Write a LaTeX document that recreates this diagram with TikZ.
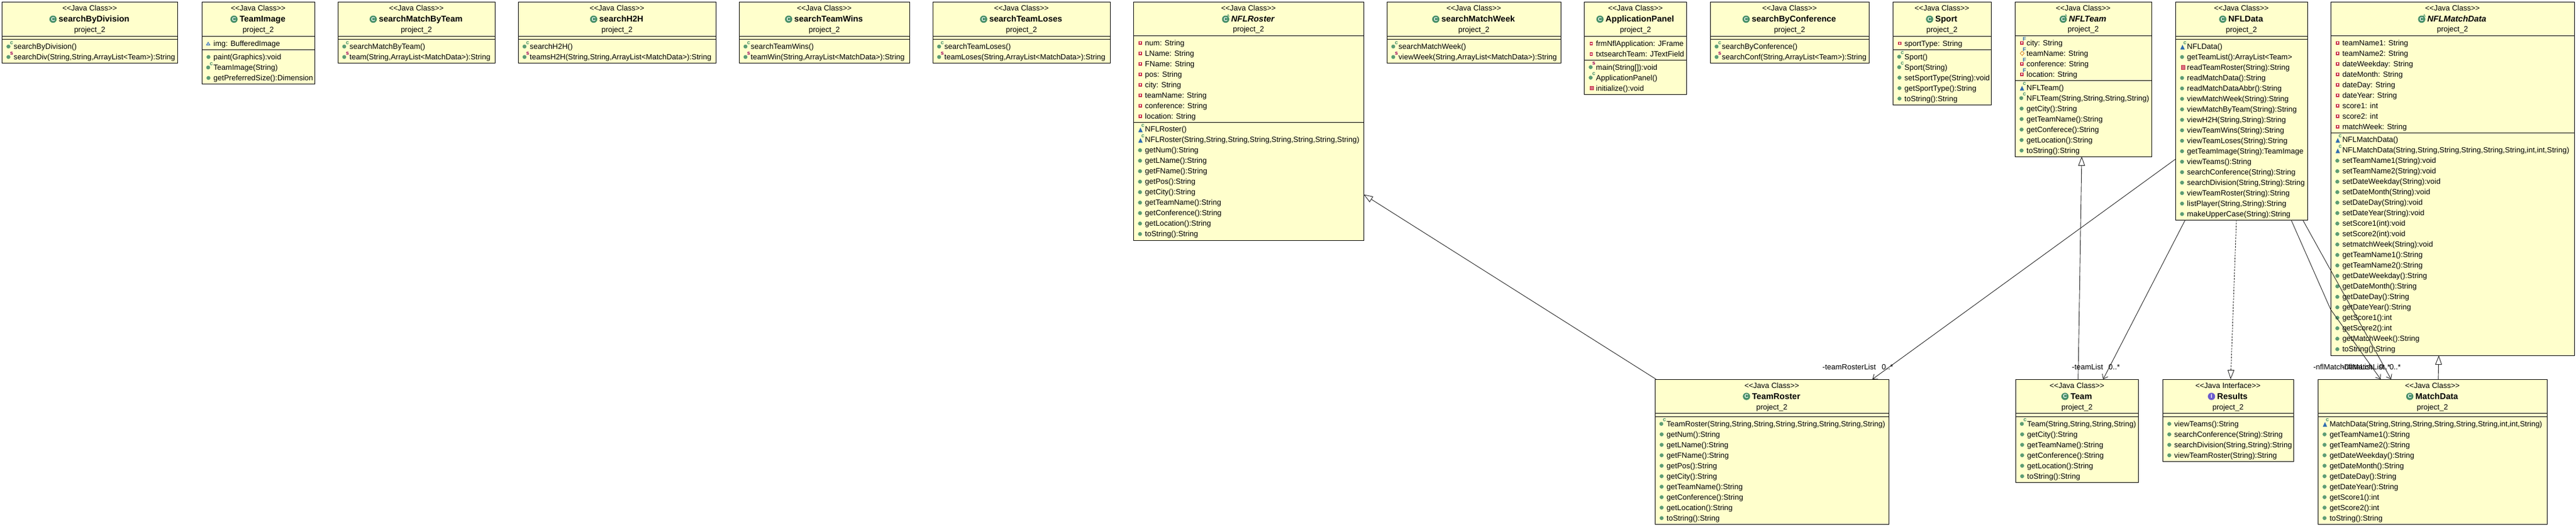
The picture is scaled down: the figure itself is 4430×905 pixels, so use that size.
\documentclass[tikz,border=0pt]{standalone}
\usepackage{fontspec}
\usetikzlibrary{arrows.meta}
\newfontfamily\umlfont{Liberation Sans}

\definecolor{boxfill}{HTML}{FFFFCC}
\definecolor{dotgreen}{HTML}{5C9C74}
\definecolor{titlegreen}{HTML}{468F68}
\definecolor{titlepurple}{HTML}{6A5ACD}
\definecolor{privred}{HTML}{C8324A}
\definecolor{pkgblue}{HTML}{2F6DB0}
\definecolor{staticred}{HTML}{A0005A}
\definecolor{linegray}{HTML}{222222}

\tikzset{
  classnode/.style={draw=black, fill=boxfill, line width=1pt, inner sep=0pt, outer sep=0pt},
  divline/.style={draw=black, line width=0.9pt},
  headtext/.style={inner sep=0pt, anchor=base, font=\umlfont\fontsize{13}{15}\selectfont},
  titletext/.style={inner sep=0pt, anchor=base, font=\umlfont\bfseries\fontsize{14.5}{16}\selectfont},
  abstitle/.style={titletext, font=\umlfont\bfseries\itshape\fontsize{14.5}{16}\selectfont},
  titleicon/.style={circle, inner sep=0pt, minimum size=12.5pt, text=white, font=\umlfont\bfseries\fontsize{9.5}{10}\selectfont},
  rowtext/.style={inner sep=0pt, anchor=base west, font=\umlfont\fontsize{13}{15}\selectfont},
  rowmark/.style={inner sep=0pt, font=\umlfont\bfseries\fontsize{9.5}{10}\selectfont},
  linktext/.style={inner sep=0pt, anchor=base west, font=\umlfont\fontsize{13}{15}\selectfont},
  genline/.style={draw=linegray, line width=0.9pt, -{Triangle[open, fill=white, length=16pt, width=11.5pt]}},
  assocline/.style={draw=linegray, line width=0.9pt, -{Straight Barb[length=7pt, width=11pt]}},
  implline/.style={genline, dash pattern=on 3pt off 2pt}
}

% the small marks in front of the rows
\newcommand{\rowsup}[3]{\node[rowmark, text=#1] (\rowid-m) at (16.5,#3-6.5) {#2};}
\newcommand{\iconpub}[1]{\fill[dotgreen] (11.5,#1) circle (3.4pt);}
\newcommand{\iconpubc}[1]{\fill[dotgreen] (11,#1) circle (3.4pt); \rowsup{titlegreen}{c}{#1}}
\newcommand{\iconpubs}[1]{\fill[dotgreen] (11,#1) circle (3.4pt); \rowsup{staticred}{s}{#1}}
\newcommand{\iconpkgc}[1]{\fill[pkgblue] (8.5,#1+5) -- (16,#1+5) -- (12.25,#1-3) -- cycle; \rowsup{titlegreen}{c}{#1}}
\newcommand{\iconpkg}[1]{\draw[pkgblue, fill=pkgblue!30, line width=0.8pt] (8,#1+2.5) -- (14,#1+2.5) -- (11,#1-2.5) -- cycle;}
\newcommand{\iconpri}[1]{\draw[privred, fill=white, line width=1.5pt] (10,#1-2.2) rectangle (14,#1+2.2);}
\newcommand{\iconprm}[1]{\draw[privred, fill=privred!70, line width=0.8pt] (10,#1-3.2) rectangle (16,#1+3.2);}
\newcommand{\iconprif}[1]{\draw[privred, fill=white, line width=1.3pt] (10,#1-2.2) rectangle (14,#1+2.2); \rowsup{pkgblue}{F}{#1}}
\newcommand{\iconprof}[1]{\draw[orange!80!black, line width=0.6pt] (9,#1) -- (12.5,#1-3.7) -- (16,#1) -- (12.5,#1+3.7) -- cycle; \rowsup{pkgblue}{F}{#1}}

% the three upper lines of a box, by kind
\newcommand{\headcls}[3]{
  \node[headtext] (#1-stereo) at (#2/2,15) {<{}<Java Class>{}>};
  \node[titletext] (#1-title) at (#2/2+7.5,34) {#3};
  \node[titleicon, fill=titlegreen] (#1-icon) at ([xshift=-9.5pt,yshift=4.5pt]#1-title.base west) {C};
  \node[headtext] (#1-pack) at (#2/2,52) {project\_2};
}
\newcommand{\headabs}[3]{
  \node[headtext] (#1-stereo) at (#2/2,15) {<{}<Java Class>{}>};
  \node[abstitle] (#1-title) at (#2/2+7.5,34) {#3};
  \node[titleicon, fill=titlegreen] (#1-icon) at ([xshift=-9.5pt,yshift=4.5pt]#1-title.base west) {C};
  \node[rowmark, text=titlegreen, font=\umlfont\bfseries\fontsize{6.5}{7}\selectfont] (#1-abs) at ([xshift=-5pt,yshift=10pt]#1-title.base west) {A};
  \node[headtext] (#1-pack) at (#2/2,51) {project\_2};
}
\newcommand{\headifc}[3]{
  \node[headtext] (#1-stereo) at (#2/2,15) {<{}<Java Interface>{}>};
  \node[titletext] (#1-title) at (#2/2+7.5,34) {#3};
  \node[titleicon, fill=titlepurple] (#1-icon) at ([xshift=-9.5pt,yshift=4.5pt]#1-title.base west) {I};
  \node[headtext] (#1-pack) at (#2/2,52) {project\_2};
}

% name, x, y, width, height, title, first divider, second divider, kind
\newcommand{\classbox}[9]{
  \node[classnode, anchor=north west, minimum width=#4pt, minimum height=#5pt] (#1) at (#2,#3) {};
  \begin{scope}[shift={(#1.north west)}]
    \draw[divline] (0,#7) -- (#4,#7);
    \draw[divline] (0,#8) -- (#4,#8);
    \csname head#9\endcsname{#1}{#4}{#6}
  \end{scope}
}

% box name, tag of the block, offset of the first row, list of icon/text
\newcommand{\classrows}[4]{
  \begin{scope}[shift={(#1.north west)}]
    \foreach [count=\i] \ic/\txt in {#4} {
      \pgfmathsetmacro{\rowy}{#3+18*(\i-1)}
      \edef\rowid{#1-#2-\i}
      \csname icon\ic\endcsname{\rowy}
      \node[rowtext] (\rowid) at (20,\rowy+4.5) {\txt};
    }
  \end{scope}
}

\begin{document}
\begin{tikzpicture}[x=1pt,y=-1pt]
  \useasboundingbox (0,0) rectangle (4430,905);

  % the small classes of the top row
  \classbox{division}{3.5}{3.5}{301.5}{104.5}{searchByDivision}{58.5}{63.5}{cls}
  \classrows{division}{m}{76.5}{pubc/{searchByDivision()}, pubs/{searchDiv(String,String,ArrayList<Team>):String}}

  \classbox{teamimage}{347}{3.5}{194}{140.5}{TeamImage}{58.5}{81.5}{cls}
  \classrows{teamimage}{a}{71.5}{pkg/{img: BufferedImage}}
  \classrows{teamimage}{m}{94.5}{pub/{paint(Graphics):void}, pubc/{TeamImage(String)}, pub/{getPreferredSize():Dimension}}

  \classbox{matchbyteam}{581}{3.5}{270}{104.5}{searchMatchByTeam}{58.5}{63.5}{cls}
  \classrows{matchbyteam}{m}{76.5}{pubc/{searchMatchByTeam()}, pubs/{team(String,ArrayList<MatchData>):String}}

  \classbox{htoh}{891}{3.5}{340}{104.5}{searchH2H}{58.5}{63.5}{cls}
  \classrows{htoh}{m}{76.5}{pubc/{searchH2H()}, pubs/{teamsH2H(String,String,ArrayList<MatchData>):String}}

  \classbox{teamwins}{1271}{3.5}{293}{104.5}{searchTeamWins}{58.5}{63.5}{cls}
  \classrows{teamwins}{m}{76.5}{pubc/{searchTeamWins()}, pubs/{teamWin(String,ArrayList<MatchData>):String}}

  \classbox{teamloses}{1604}{3.5}{305}{104.5}{searchTeamLoses}{58.5}{63.5}{cls}
  \classrows{teamloses}{m}{76.5}{pubc/{searchTeamLoses()}, pubs/{teamLoses(String,ArrayList<MatchData>):String}}

  % the roster
  \classbox{nflroster}{1949}{3.5}{396}{409.5}{NFLRoster}{57.5}{206.5}{abs}
  \classrows{nflroster}{a}{70.2}{pri/{num: String}, pri/{LName: String}, pri/{FName: String}, pri/{pos: String}, pri/{city: String}, pri/{teamName: String}, pri/{conference: String}, pri/{location: String}}
  \classrows{nflroster}{m}{218.8}{pkgc/{NFLRoster()}, pkgc/{NFLRoster(String,String,String,String,String,String,String,String)}, pub/{getNum():String}, pub/{getLName():String}, pub/{getFName():String}, pub/{getPos():String}, pub/{getCity():String}, pub/{getTeamName():String}, pub/{getConference():String}, pub/{getLocation():String}, pub/{toString():String}}

  \classbox{matchweek}{2385}{3.5}{299}{104.5}{searchMatchWeek}{58.5}{63.5}{cls}
  \classrows{matchweek}{m}{76.5}{pubc/{searchMatchWeek()}, pubs/{viewWeek(String,ArrayList<MatchData>):String}}

  \classbox{apppanel}{2724.5}{3.5}{176}{158.5}{ApplicationPanel}{58.5}{99.5}{cls}
  \classrows{apppanel}{a}{71.5}{pri/{frmNflApplication: JFrame}, pri/{txtsearchTeam: JTextField}}
  \classrows{apppanel}{m}{112}{pubs/{main(String[]):void}, pubc/{ApplicationPanel()}, prm/{initialize():void}}

  \classbox{conference}{2941}{3.5}{273}{104.5}{searchByConference}{58.5}{63.5}{cls}
  \classrows{conference}{m}{76.5}{pubc/{searchByConference()}, pubs/{searchConf(String,ArrayList<Team>):String}}

  \classbox{sport}{3255}{3.5}{169}{176.5}{Sport}{58.5}{81.5}{cls}
  \classrows{sport}{a}{71}{pri/{sportType: String}}
  \classrows{sport}{m}{94}{pubc/{Sport()}, pubc/{Sport(String)}, pub/{setSportType(String):void}, pub/{getSportType():String}, pub/{toString():String}}

  \classbox{nflteam}{3465}{3.5}{235}{265.5}{NFLTeam}{57.5}{134.5}{abs}
  \classrows{nflteam}{a}{70.2}{prif/{city: String}, prof/{teamName: String}, prif/{conference: String}, prif/{location: String}}
  \classrows{nflteam}{m}{147.2}{pkgc/{NFLTeam()}, pubc/{NFLTeam(String,String,String,String)}, pub/{getCity():String}, pub/{getTeamName():String}, pub/{getConferece():String}, pub/{getLocation():String}, pub/{toString():String}}

  \classbox{nfldata}{3741}{3.5}{227}{374.5}{NFLData}{58.5}{63.5}{cls}
  \classrows{nfldata}{m}{76.5}{pkgc/{NFLData()}, pub/{getTeamList():ArrayList<Team>}, prm/{readTeamRoster(String):String}, pub/{readMatchData():String}, pub/{readMatchDataAbbr():String}, pub/{viewMatchWeek(String):String}, pub/{viewMatchByTeam(String):String}, pub/{viewH2H(String,String):String}, pub/{viewTeamWins(String):String}, pub/{viewTeamLoses(String):String}, pub/{getTeamImage(String):TeamImage}, pub/{viewTeams():String}, pub/{searchConference(String):String}, pub/{searchDivision(String,String):String}, pub/{viewTeamRoster(String):String}, pub/{listPlayer(String,String):String}, pub/{makeUpperCase(String):String}}

  \classbox{nflmatch}{4008}{3.5}{419}{607.5}{NFLMatchData}{57.5}{224.5}{abs}
  \classrows{nflmatch}{a}{70.2}{pri/{teamName1: String}, pri/{teamName2: String}, pri/{dateWeekday: String}, pri/{dateMonth: String}, pri/{dateDay: String}, pri/{dateYear: String}, pri/{score1: int}, pri/{score2: int}, pri/{matchWeek: String}}
  \classrows{nflmatch}{m}{236.8}{pkgc/{NFLMatchData()}, pkgc/{NFLMatchData(String,String,String,String,String,String,int,int,String)}, pub/{setTeamName1(String):void}, pub/{setTeamName2(String):void}, pub/{setDateWeekday(String):void}, pub/{setDateMonth(String):void}, pub/{setDateDay(String):void}, pub/{setDateYear(String):void}, pub/{setScore1(int):void}, pub/{setScore2(int):void}, pub/{setmatchWeek(String):void}, pub/{getTeamName1():String}, pub/{getTeamName2():String}, pub/{getDateWeekday():String}, pub/{getDateMonth():String}, pub/{getDateDay():String}, pub/{getDateYear():String}, pub/{getScore1():int}, pub/{getScore2():int}, pub/{getMatchWeek():String}, pub/{toString():String}}

  % the bottom row
  \classbox{teamroster}{2846}{652}{402}{249}{TeamRoster}{58.5}{64.5}{cls}
  \classrows{teamroster}{m}{76.7}{pubc/{TeamRoster(String,String,String,String,String,String,String,String)}, pub/{getNum():String}, pub/{getLName():String}, pub/{getFName():String}, pub/{getPos():String}, pub/{getCity():String}, pub/{getTeamName():String}, pub/{getConference():String}, pub/{getLocation():String}, pub/{toString():String}}

  \classbox{team}{3466}{652}{211.5}{177}{Team}{58.5}{64.5}{cls}
  \classrows{team}{m}{76.7}{pubc/{Team(String,String,String,String)}, pub/{getCity():String}, pub/{getTeamName():String}, pub/{getConference():String}, pub/{getLocation():String}, pub/{toString():String}}

  \classbox{results}{3719}{652}{225}{141}{Results}{58.5}{64.5}{ifc}
  \classrows{results}{m}{76.7}{pub/{viewTeams():String}, pub/{searchConference(String):String}, pub/{searchDivision(String,String):String}, pub/{viewTeamRoster(String):String}}

  \classbox{matchdata}{3986}{652}{394}{249}{MatchData}{58.5}{64.5}{cls}
  \classrows{matchdata}{m}{76.7}{pkgc/{MatchData(String,String,String,String,String,String,int,int,String)}, pub/{getTeamName1():String}, pub/{getTeamName2():String}, pub/{getDateWeekday():String}, pub/{getDateMonth():String}, pub/{getDateDay():String}, pub/{getDateYear():String}, pub/{getScore1():int}, pub/{getScore2():int}, pub/{toString():String}}

  % draw the connectors
  \draw[genline] ([xshift=2pt]teamroster.north west) -- ([yshift=-126pt]nflroster.east);
  \draw[genline] ([xshift=2pt]team.north) -- ([xshift=-2.5pt]nflteam.south);
  \draw[genline] ([xshift=10pt]matchdata.north) -- ([xshift=-23.5pt]nflmatch.south);
  \draw[implline] ([xshift=-8.5pt]nfldata.south) -- ([xshift=4.5pt]results.north);
  \draw[assocline] ([yshift=-83pt]nfldata.west) -- ([xshift=-28pt]teamroster.north east);
  \draw[assocline] ([xshift=-96.5pt]nfldata.south) -- ([xshift=45pt]team.north);
  \coordinate (matchbend) at (4008,532);
  \draw[assocline] ([xshift=-28pt]nfldata.south east) -- (matchbend) -- ([xshift=-89pt]matchdata.north);
  \draw[assocline] ([xshift=-8pt]nfldata.south east) -- ([xshift=-71pt]matchdata.north);

  % the texts at the arrows
  \node[linktext] (rosterrole) at (3134,635.5) {-teamRosterList};
  \node[linktext] (rostermult) at (3236,635.5) {0..*};
  \node[linktext] (teamrole) at (3563,635.5) {-teamList};
  \node[linktext] (teammult) at (3626,635.5) {0..*};
  \node[linktext] (datarole) at (3978,635.5) {-nflMatchDataList};
  \node[linktext] (datamult) at (4091,635.5) {0..*};
  \node[linktext] (matchrole) at (4027,635.5) {-nflMatchList};
  \node[linktext] (matchmult) at (4109,635.5) {0..*};
\end{tikzpicture}
\end{document}
